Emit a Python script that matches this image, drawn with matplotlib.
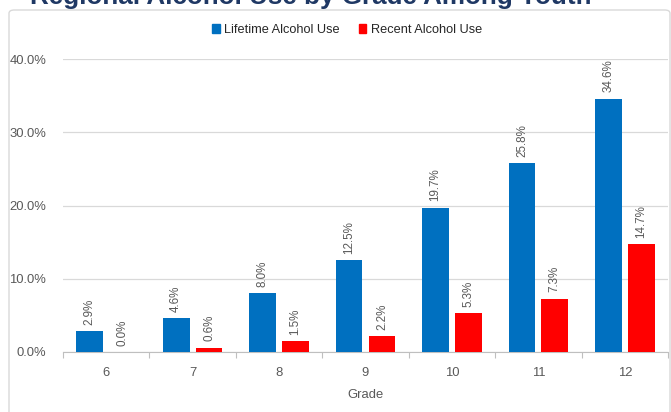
import numpy as np
import matplotlib
matplotlib.use("Agg")
import matplotlib.pyplot as plt
from matplotlib.patches import Patch, FancyBboxPatch
from matplotlib.ticker import FixedLocator, FuncFormatter

grades = ["6", "7", "8", "9", "10", "11", "12"]
lifetime = [2.9, 4.6, 8.0, 12.5, 19.7, 25.8, 34.6]
recent = [0.0, 0.6, 1.5, 2.2, 5.3, 7.3, 14.7]
series_names = ["Lifetime Alcohol Use", "Recent Alcohol Use"]
title = "Regional Alcohol Use by Grade Among Youth*"

BLUE = "#0070C0"
RED = "#FF0000"
GREY_TXT = "#595959"
GRID = "#D9D9D9"

plt.rcParams["font.family"] = ["Liberation Sans", "DejaVu Sans"]

W, H = 671, 412
fig = plt.figure(figsize=(W / 100, H / 100), dpi=100)

# chart frame
frame = FancyBboxPatch((9 / W, -0.2), 661 / W, 1.2 - 10 / H,
                       boxstyle="round,pad=0,rounding_size=0.008",
                       transform=fig.transFigure, fill=False, ec=GRID, lw=1.0)
fig.patches.append(frame)

# slide title, mostly cut off by the top edge
fig.text(30 / W, 1 - 4 / H, title, ha="left", va="baseline",
         fontsize=18.7, fontweight="bold", color="#1F3864")

ax = fig.add_axes([63 / W, 1 - 352 / H, 605 / W, 293 / H])
x = np.arange(len(grades))
bw, off = 0.31, 0.19
ax.bar(x - off, lifetime, bw, color=BLUE, zorder=3)
ax.bar(x + off, recent, bw, color=RED, zorder=3)

for xs, vals in ((x - off, lifetime), (x + off, recent)):
    for xi, v in zip(xs, vals):
        ax.annotate(f"{v:.1f}%", xy=(xi, v), xytext=(0, 4.5), textcoords="offset points",
                    rotation=90, ha="center", va="bottom", fontsize=8.4, color=GREY_TXT)

ax.set_xlim(-0.5, len(grades) - 0.5)
ax.set_ylim(0, 40)
ax.yaxis.set_major_locator(FixedLocator([0, 10, 20, 30, 40]))
ax.yaxis.set_major_formatter(FuncFormatter(lambda v, p: f"{v:.1f}%"))
ax.tick_params(axis="y", length=0, pad=12, labelsize=9.4, labelcolor=GREY_TXT)
ax.grid(axis="y", color=GRID, lw=0.9, zorder=0)

ax.xaxis.set_major_locator(FixedLocator(np.arange(-0.5, len(grades), 1.0)))
ax.xaxis.set_major_formatter(plt.NullFormatter())
ax.set_xticks(x, grades, minor=True)
ax.tick_params(axis="x", which="major", length=4, color="#BFBFBF", direction="out")
ax.tick_params(axis="x", which="minor", length=0, pad=11, labelsize=9.4, labelcolor=GREY_TXT)
ax.set_xlabel("Grade", fontsize=9.4, color=GREY_TXT, labelpad=7)

for s in ("top", "right", "left"):
    ax.spines[s].set_visible(False)
ax.spines["bottom"].set_color("#BFBFBF")

handles = [Patch(color=BLUE), Patch(color=RED)]
fig.legend(handles, series_names, loc="center", bbox_to_anchor=(347 / W, 1 - 30 / H),
           ncol=2, frameon=False, fontsize=9.2, handlelength=0.6, handleheight=0.6,
           handletextpad=0.35, columnspacing=1.5, labelcolor="#262626")

fig.savefig("out.png", dpi=100)
plt.close(fig)
